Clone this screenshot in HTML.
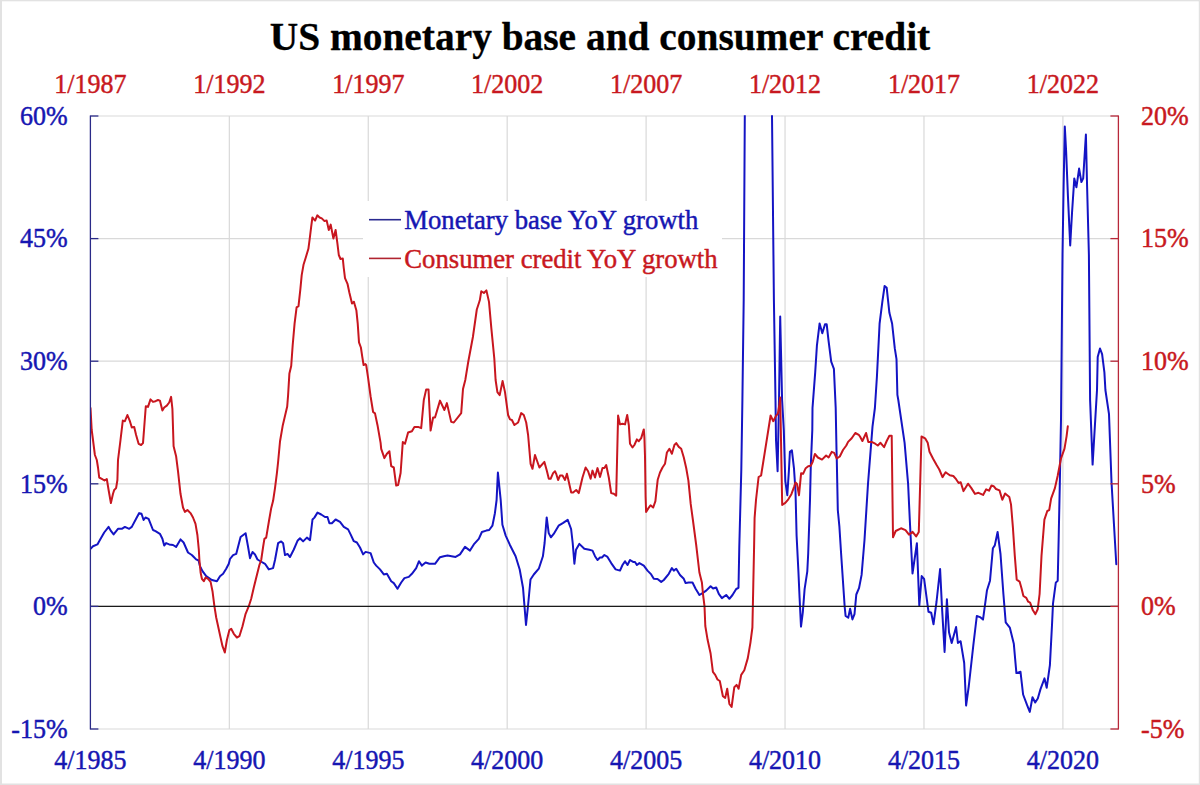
<!DOCTYPE html>
<html><head><meta charset="utf-8"><title>US monetary base and consumer credit</title>
<style>html,body{margin:0;padding:0;background:#fff;overflow:hidden}svg{display:block}text{stroke-width:0.45px;stroke-linejoin:round}.tb{stroke:#1616b2}.tr{stroke:#c81820}.tk{stroke:#000;stroke-width:0.3px}</style>
</head><body>
<svg width="1200" height="785" viewBox="0 0 1200 785" font-family="'Liberation Serif', 'Times New Roman', serif" font-size="26">
<rect x="0" y="0" width="1200" height="785" fill="#fff"/>
<rect x="0" y="0" width="2" height="785" fill="#e2e2e2"/><rect x="0" y="0" width="1200" height="1.3" fill="#e2e2e2"/><rect x="1198.8" y="0" width="1.2" height="785" fill="#e2e2e2"/><rect x="0" y="783.5" width="1200" height="1.5" fill="#e2e2e2"/>
<line x1="90.4" y1="116.00" x2="1118.4" y2="116.00" stroke="#d9d9d9" stroke-width="1.2"/>
<line x1="90.4" y1="238.60" x2="1118.4" y2="238.60" stroke="#d9d9d9" stroke-width="1.2"/>
<line x1="90.4" y1="361.20" x2="1118.4" y2="361.20" stroke="#d9d9d9" stroke-width="1.2"/>
<line x1="90.4" y1="483.80" x2="1118.4" y2="483.80" stroke="#d9d9d9" stroke-width="1.2"/>
<line x1="90.4" y1="606.40" x2="1118.4" y2="606.40" stroke="#d9d9d9" stroke-width="1.2"/>
<line x1="90.4" y1="729.00" x2="1118.4" y2="729.00" stroke="#d9d9d9" stroke-width="1.2"/>
<line x1="229.33" y1="116.0" x2="229.33" y2="729.0" stroke="#d9d9d9" stroke-width="1.2"/>
<line x1="368.26" y1="116.0" x2="368.26" y2="729.0" stroke="#d9d9d9" stroke-width="1.2"/>
<line x1="507.19" y1="116.0" x2="507.19" y2="729.0" stroke="#d9d9d9" stroke-width="1.2"/>
<line x1="646.11" y1="116.0" x2="646.11" y2="729.0" stroke="#d9d9d9" stroke-width="1.2"/>
<line x1="785.04" y1="116.0" x2="785.04" y2="729.0" stroke="#d9d9d9" stroke-width="1.2"/>
<line x1="923.97" y1="116.0" x2="923.97" y2="729.0" stroke="#d9d9d9" stroke-width="1.2"/>
<line x1="1062.90" y1="116.0" x2="1062.90" y2="729.0" stroke="#d9d9d9" stroke-width="1.2"/>
<defs><clipPath id="pc"><rect x="90" y="115.2" width="1029" height="614.5"/></clipPath></defs>
<g clip-path="url(#pc)" fill="none" stroke-linejoin="round" stroke-linecap="round">
<path d="M90.5,548.8 L93.0,546.2 L97.4,544.4 L99.9,540.0 L104.2,532.5 L108.6,526.9 L111.1,531.2 L113.6,534.4 L118.0,528.8 L121.8,528.8 L124.9,526.9 L129.2,528.8 L131.8,526.9 L136.1,518.8 L139.2,513.1 L141.5,513.8 L143.6,520.0 L145.5,517.5 L148.6,518.8 L153.0,530.0 L155.5,531.2 L159.9,533.8 L162.4,538.8 L164.2,545.6 L166.1,543.1 L169.2,544.4 L173.0,545.0 L176.1,546.9 L180.5,539.4 L183.6,542.5 L188.0,552.5 L191.8,555.0 L193.8,557.0 L196.1,559.4 L198.6,560.5 L200.0,566.2 L202.5,571.2 L206.2,576.2 L211.9,580.0 L216.9,581.2 L220.0,576.2 L223.1,573.8 L226.2,568.8 L228.8,563.8 L230.0,559.0 L233.1,555.1 L236.2,553.9 L240.6,537.0 L245.6,533.2 L248.1,547.0 L250.0,558.2 L252.5,552.0 L255.0,554.5 L257.5,559.5 L260.0,561.0 L265.0,563.8 L268.8,569.4 L273.1,568.1 L275.0,560.0 L278.1,543.2 L281.2,541.4 L283.1,543.2 L285.0,555.1 L287.5,553.9 L290.0,557.0 L293.8,549.5 L297.5,540.8 L300.0,538.2 L303.1,541.4 L306.9,537.6 L310.0,540.1 L312.5,519.5 L314.4,517.6 L317.5,512.6 L321.2,514.5 L325.0,517.0 L327.5,517.0 L329.4,523.2 L331.9,523.2 L335.6,519.5 L340.0,521.9 L343.8,526.9 L348.1,529.4 L350.6,534.4 L353.8,541.2 L356.9,542.5 L360.0,547.5 L363.1,554.4 L365.6,551.9 L370.6,553.1 L373.8,562.5 L376.2,565.6 L380.0,569.4 L383.8,574.4 L386.9,573.8 L391.2,581.2 L393.8,583.1 L397.5,588.8 L401.2,582.5 L404.4,578.1 L408.8,576.9 L411.9,573.8 L416.2,568.1 L419.0,561.2 L421.9,565.6 L425.6,562.5 L429.4,563.8 L435.0,563.8 L440.0,557.2 L443.8,556.2 L447.5,555.6 L455.6,556.9 L460.0,554.4 L465.0,546.9 L470.0,550.6 L473.8,544.4 L478.8,538.8 L481.9,532.0 L486.2,530.6 L489.2,530.0 L492.4,525.7 L494.9,513.2 L496.6,500.0 L497.9,472.6 L500.7,500.0 L502.4,524.8 L505.7,535.6 L509.8,544.7 L515.6,556.3 L519.7,569.5 L523.0,587.7 L526.0,625.0 L528.0,606.0 L530.5,579.5 L533.8,574.5 L538.8,568.7 L542.9,556.3 L544.6,543.0 L546.7,517.4 L548.7,533.1 L550.9,537.3 L553.7,533.9 L558.6,525.7 L562.8,523.2 L567.7,519.9 L571.1,529.0 L572.7,543.0 L574.4,563.7 L576.0,549.7 L579.3,543.9 L584.3,548.8 L589.3,549.7 L592.5,550.6 L595.0,556.2 L597.5,560.0 L600.0,557.5 L601.9,557.5 L604.4,555.0 L607.5,556.9 L611.2,563.1 L615.6,569.4 L620.0,570.6 L622.5,565.0 L625.0,561.2 L627.5,565.0 L630.0,560.0 L633.1,561.9 L635.0,561.9 L636.9,565.0 L639.4,563.1 L643.8,565.6 L647.5,570.6 L651.2,574.4 L653.8,578.8 L657.5,579.0 L661.2,581.9 L663.8,580.0 L668.8,573.8 L671.9,568.1 L673.8,570.6 L676.2,568.8 L680.0,575.0 L683.8,578.8 L685.6,583.1 L688.8,582.5 L692.5,582.5 L695.6,588.8 L699.4,595.0 L702.5,593.1 L706.2,590.6 L710.6,586.2 L713.1,588.5 L716.2,587.5 L718.8,593.8 L721.9,598.1 L726.2,595.0 L729.4,598.8 L732.5,595.0 L736.2,589.0 L738.5,587.8 L739.3,546.5 L740.3,508.2 L741.3,470.0 L742.4,400.0 L743.7,300.0 L744.8,115.6 L745.2,60.0 L771.6,60.0 L772.0,115.6 L773.9,300.0 L775.5,400.0 L776.0,440.0 L777.6,471.3 L779.0,400.0 L780.2,316.6 L782.1,400.0 L783.8,430.0 L785.3,481.0 L787.3,495.2 L788.9,470.8 L789.9,451.9 L791.9,450.4 L794.0,468.7 L795.5,491.2 L796.6,535.7 L798.4,571.3 L799.6,598.0 L801.0,626.6 L802.8,612.3 L804.6,589.1 L807.3,571.3 L808.2,553.5 L810.0,500.0 L810.8,465.7 L812.3,430.0 L812.5,408.0 L815.2,372.4 L816.9,345.7 L819.6,323.4 L822.3,333.2 L825.0,324.3 L826.7,324.3 L828.5,340.3 L831.2,361.7 L833.9,368.8 L835.7,408.0 L836.5,450.0 L836.8,460.6 L837.8,510.0 L839.4,526.7 L841.1,553.5 L842.9,580.2 L844.7,607.0 L845.6,615.9 L848.3,617.6 L850.1,608.7 L852.4,619.4 L854.5,614.1 L856.3,594.5 L859.0,588.2 L861.6,574.9 L864.5,540.0 L868.0,483.8 L872.5,426.7 L874.9,408.0 L876.9,377.0 L879.6,323.5 L882.3,302.1 L884.6,286.0 L886.7,287.8 L889.4,312.8 L892.1,323.5 L894.8,348.4 L896.5,359.1 L897.4,394.8 L898.3,400.0 L904.6,442.8 L908.1,483.8 L909.8,520.0 L910.7,537.8 L912.5,573.5 L916.9,543.2 L919.3,605.6 L921.7,576.1 L924.1,578.8 L928.5,611.8 L931.2,612.7 L933.5,624.3 L936.5,602.0 L940.1,569.0 L941.9,605.6 L944.6,651.9 L946.9,599.3 L949.0,632.3 L951.7,643.0 L956.1,627.0 L957.9,643.0 L960.6,641.2 L964.2,663.0 L966.1,705.5 L968.8,686.0 L973.4,644.7 L976.8,616.0 L980.0,617.1 L983.0,619.6 L987.0,590.2 L990.0,580.7 L992.9,548.2 L994.8,545.4 L997.6,532.0 L1000.5,554.0 L1003.4,594.0 L1005.7,622.3 L1009.8,627.6 L1013.8,643.7 L1016.4,673.1 L1020.5,671.8 L1023.1,694.5 L1027.1,705.2 L1029.8,711.9 L1032.5,697.2 L1035.2,702.5 L1037.8,698.5 L1040.5,689.1 L1044.5,678.4 L1046.7,687.8 L1049.9,665.1 L1052.0,625.0 L1053.0,603.6 L1055.8,582.6 L1057.7,580.7 L1058.7,536.8 L1059.7,489.1 L1061.0,420.0 L1062.5,255.0 L1063.6,186.4 L1064.8,126.6 L1066.1,150.7 L1067.9,195.4 L1070.2,245.4 L1072.0,213.2 L1074.3,178.4 L1076.4,187.3 L1079.1,168.6 L1081.4,182.0 L1083.2,178.4 L1085.9,134.6 L1087.1,186.4 L1088.9,255.0 L1090.1,400.0 L1092.6,464.6 L1097.0,390.0 L1097.7,357.1 L1100.0,348.5 L1102.1,354.2 L1104.4,372.4 L1105.4,390.0 L1109.0,414.2 L1111.5,482.0 L1113.9,523.2 L1116.3,564.3" stroke="#1414c4" stroke-width="2.0"/>
<path d="M90.5,408.0 L91.7,430.0 L93.0,440.0 L94.9,455.0 L96.8,460.0 L98.0,467.5 L99.2,477.5 L101.8,478.8 L104.5,480.5 L106.8,479.0 L108.6,490.0 L110.9,503.1 L113.0,493.8 L114.2,490.0 L116.1,488.1 L117.4,480.0 L118.0,460.0 L120.5,440.0 L122.8,420.6 L124.9,421.2 L127.4,415.0 L129.9,421.2 L131.8,427.5 L134.2,426.9 L136.1,435.0 L138.6,443.8 L141.1,445.0 L143.0,443.1 L144.2,427.5 L145.8,406.2 L148.0,406.9 L150.5,399.4 L153.0,401.9 L155.5,401.2 L158.0,400.0 L159.9,400.6 L162.4,410.6 L164.2,407.5 L166.8,405.6 L169.2,402.5 L171.1,396.9 L172.4,408.8 L173.6,446.2 L176.1,456.2 L178.0,471.2 L180.5,493.8 L183.0,507.5 L184.9,511.9 L187.4,510.0 L190.5,513.1 L193.0,517.5 L195.5,523.8 L197.4,535.0 L198.8,549.5 L199.4,560.0 L200.6,572.5 L201.9,578.8 L203.8,581.2 L205.6,577.5 L208.1,578.8 L210.6,581.9 L212.5,591.2 L214.4,606.2 L216.2,617.5 L220.0,635.0 L222.5,646.2 L224.8,652.5 L226.9,640.0 L229.4,630.0 L231.2,628.8 L233.8,633.8 L236.9,637.5 L239.4,636.2 L242.5,626.2 L245.6,613.8 L248.8,606.2 L251.2,598.8 L253.8,587.5 L256.9,575.0 L259.4,565.0 L261.2,560.0 L263.1,547.0 L264.4,538.9 L266.2,537.6 L268.8,522.0 L271.2,508.2 L273.1,500.8 L275.0,488.2 L276.9,473.2 L278.1,462.0 L280.0,441.5 L282.8,425.2 L287.2,406.5 L288.1,395.2 L289.4,373.4 L291.2,366.0 L292.7,345.0 L294.6,323.3 L296.6,307.4 L298.5,306.1 L300.4,288.9 L301.7,275.1 L303.5,264.8 L305.7,257.7 L308.4,248.8 L309.7,238.9 L311.1,227.3 L312.4,217.5 L315.1,220.6 L317.3,215.3 L319.6,217.5 L321.8,218.4 L324.5,221.1 L326.7,220.6 L328.8,230.0 L330.7,224.6 L333.4,238.5 L335.6,230.0 L337.4,243.4 L338.8,255.0 L340.5,259.0 L342.8,258.6 L343.7,267.5 L345.0,278.1 L347.5,283.8 L349.4,292.8 L352.0,303.6 L353.9,301.7 L356.4,310.6 L357.7,323.3 L359.0,342.4 L360.9,347.5 L362.2,356.4 L363.6,365.0 L365.4,364.1 L366.2,365.2 L368.1,377.8 L370.6,396.5 L373.1,412.0 L375.0,413.4 L377.5,425.2 L380.6,442.8 L381.2,448.8 L384.4,458.1 L386.9,453.8 L389.4,451.2 L391.2,466.2 L393.8,467.5 L396.2,485.6 L398.1,485.0 L400.6,473.0 L402.8,442.0 L405.0,443.8 L408.1,432.5 L411.9,431.2 L414.4,426.9 L418.1,426.9 L421.2,428.1 L423.8,400.0 L426.2,389.4 L428.5,389.4 L430.6,430.6 L433.1,417.5 L435.0,417.5 L440.0,400.6 L444.4,410.0 L446.9,403.1 L451.2,421.9 L453.8,422.5 L461.2,413.1 L463.0,389.0 L465.3,379.9 L468.3,361.5 L472.9,337.0 L476.8,309.5 L479.8,300.3 L481.3,291.2 L483.9,293.0 L486.4,290.4 L489.0,301.9 L491.3,327.9 L494.3,358.5 L495.6,380.0 L497.4,392.1 L499.7,395.1 L502.6,381.0 L505.0,392.1 L508.1,415.0 L510.0,419.4 L511.9,420.0 L514.4,425.0 L518.1,422.5 L521.2,413.1 L523.8,415.0 L526.2,422.5 L528.1,435.0 L530.6,463.8 L532.5,468.8 L535.0,455.0 L539.4,467.5 L544.4,461.9 L546.9,471.0 L548.8,478.8 L550.6,478.8 L553.1,473.1 L555.0,471.2 L556.2,473.8 L558.1,480.0 L560.0,475.6 L562.5,475.6 L565.0,480.0 L566.9,473.8 L568.1,478.8 L571.2,492.5 L573.1,492.5 L576.2,490.0 L578.8,493.1 L582.5,477.5 L585.6,467.5 L588.1,471.2 L590.6,478.8 L592.5,470.6 L595.0,477.5 L597.5,468.1 L600.0,476.9 L602.5,468.1 L604.4,468.1 L606.2,465.0 L608.8,477.5 L611.2,493.1 L613.8,493.8 L616.2,495.6 L618.1,415.6 L620.0,424.4 L622.5,423.8 L625.0,424.4 L627.2,415.0 L628.8,425.0 L630.0,443.8 L632.5,447.5 L634.4,445.0 L636.9,439.4 L638.8,441.2 L641.2,438.1 L643.8,429.4 L644.4,437.5 L645.0,456.2 L645.6,496.8 L646.1,511.9 L648.3,508.4 L650.5,505.2 L653.2,507.5 L655.4,501.2 L656.8,487.8 L657.7,479.8 L660.0,472.5 L662.5,467.5 L665.0,463.8 L666.9,452.5 L669.4,448.8 L671.9,453.8 L674.4,445.0 L676.2,443.1 L678.8,446.9 L681.2,448.8 L683.8,457.5 L686.2,468.0 L688.4,480.7 L690.7,503.9 L692.9,520.0 L696.2,545.0 L699.4,572.5 L701.9,582.5 L703.1,595.0 L704.5,606.1 L705.3,626.0 L707.6,639.8 L710.6,653.5 L712.9,671.9 L715.2,674.9 L717.5,679.5 L719.8,681.0 L722.9,696.3 L725.2,697.9 L727.2,688.7 L729.4,704.0 L731.6,707.0 L734.3,687.2 L736.6,684.9 L738.6,688.7 L741.2,674.9 L744.3,670.3 L747.8,658.1 L750.4,642.8 L752.4,627.5 L753.3,584.7 L754.1,546.5 L754.6,517.8 L756.0,500.0 L758.6,477.0 L761.1,475.5 L770.6,415.5 L773.3,421.2 L776.0,415.9 L777.9,413.6 L779.4,404.4 L780.2,397.6 L781.0,440.0 L782.2,504.9 L785.3,502.9 L788.3,499.3 L791.4,494.2 L794.0,487.1 L795.5,482.5 L797.0,484.0 L799.0,495.2 L801.1,473.3 L803.1,473.8 L805.7,468.2 L808.2,466.2 L810.8,465.7 L812.8,461.6 L814.9,454.0 L817.9,457.5 L822.0,459.6 L826.1,455.5 L828.6,457.5 L831.7,451.9 L834.2,452.9 L836.8,458.5 L839.8,456.5 L843.0,450.0 L846.3,445.5 L848.1,441.9 L851.7,438.3 L855.3,433.0 L858.8,434.8 L860.0,436.5 L862.4,441.0 L866.1,433.0 L868.3,442.0 L871.6,441.9 L875.2,443.7 L877.8,445.5 L880.5,442.8 L884.1,447.2 L886.7,441.0 L889.4,435.7 L891.7,435.7 L893.0,537.3 L895.7,531.0 L901.0,528.3 L905.5,530.1 L909.0,534.6 L912.6,531.9 L916.1,536.4 L918.8,531.9 L921.5,436.5 L925.1,438.3 L927.7,442.8 L929.5,451.7 L933.1,458.8 L936.6,465.1 L939.3,469.5 L942.5,477.1 L945.6,472.2 L949.8,475.3 L953.3,476.0 L956.1,479.2 L958.6,483.0 L960.7,482.3 L963.5,491.1 L968.0,483.7 L971.2,487.9 L975.0,493.9 L978.5,492.8 L983.1,494.9 L986.2,489.3 L989.0,490.7 L991.5,485.5 L993.6,486.2 L996.0,489.0 L999.5,490.4 L1002.3,499.8 L1005.1,493.5 L1009.3,497.0 L1011.0,504.4 L1012.9,527.3 L1014.8,555.9 L1016.7,579.7 L1019.6,581.6 L1021.5,588.3 L1023.4,596.0 L1026.3,597.9 L1028.2,601.7 L1030.1,602.6 L1032.9,610.3 L1035.4,614.1 L1037.7,609.3 L1039.6,594.0 L1041.5,555.9 L1044.4,519.6 L1047.3,511.0 L1049.2,510.1 L1051.1,498.6 L1054.9,488.1 L1057.7,475.7 L1061.0,458.5 L1064.5,448.7 L1066.6,436.1 L1067.8,426.3" stroke="#c8161f" stroke-width="2.0"/>
</g>
<rect x="363" y="201" width="359" height="76" fill="#fff"/>
<line x1="369" y1="219.7" x2="401" y2="219.7" stroke="#2a2a90" stroke-width="1.6"/>
<line x1="369" y1="258.4" x2="401" y2="258.4" stroke="#b02430" stroke-width="1.6"/>
<text x="404.3" y="229.2" font-size="26.7" fill="#1616b2" class="tb">Monetary base YoY growth</text>
<text x="404.3" y="267.8" font-size="26.7" fill="#c81820" class="tr">Consumer credit YoY growth</text>
<line x1="90.4" y1="606.40" x2="1118.4" y2="606.40" stroke="#1a1a1a" stroke-width="1.2"/>
<line x1="90.4" y1="115.4" x2="90.4" y2="729.6" stroke="#2a2a88" stroke-width="1.3"/>
<line x1="90.4" y1="116.00" x2="98.4" y2="116.00" stroke="#2a2a88" stroke-width="1.3"/>
<line x1="90.4" y1="238.60" x2="98.4" y2="238.60" stroke="#2a2a88" stroke-width="1.3"/>
<line x1="90.4" y1="361.20" x2="98.4" y2="361.20" stroke="#2a2a88" stroke-width="1.3"/>
<line x1="90.4" y1="483.80" x2="98.4" y2="483.80" stroke="#2a2a88" stroke-width="1.3"/>
<line x1="90.4" y1="606.40" x2="98.4" y2="606.40" stroke="#2a2a88" stroke-width="1.3"/>
<line x1="90.4" y1="729.00" x2="98.4" y2="729.00" stroke="#2a2a88" stroke-width="1.3"/>
<line x1="1118.4" y1="115.4" x2="1118.4" y2="729.6" stroke="#b8283a" stroke-width="1.3"/>
<line x1="1110.4" y1="116.00" x2="1118.4" y2="116.00" stroke="#b8283a" stroke-width="1.3"/>
<line x1="1110.4" y1="238.60" x2="1118.4" y2="238.60" stroke="#b8283a" stroke-width="1.3"/>
<line x1="1110.4" y1="361.20" x2="1118.4" y2="361.20" stroke="#b8283a" stroke-width="1.3"/>
<line x1="1110.4" y1="483.80" x2="1118.4" y2="483.80" stroke="#b8283a" stroke-width="1.3"/>
<line x1="1110.4" y1="606.40" x2="1118.4" y2="606.40" stroke="#b8283a" stroke-width="1.3"/>
<line x1="1110.4" y1="729.00" x2="1118.4" y2="729.00" stroke="#b8283a" stroke-width="1.3"/>
<text transform="translate(67.6 124.7) scale(1 1.06)" text-anchor="end" fill="#1616b2" class="tb">60%</text>
<text transform="translate(1141.0 124.7) scale(1 1.06)" fill="#c81820" class="tr">20%</text>
<text transform="translate(67.6 247.3) scale(1 1.06)" text-anchor="end" fill="#1616b2" class="tb">45%</text>
<text transform="translate(1141.0 247.3) scale(1 1.06)" fill="#c81820" class="tr">15%</text>
<text transform="translate(67.6 369.9) scale(1 1.06)" text-anchor="end" fill="#1616b2" class="tb">30%</text>
<text transform="translate(1141.0 369.9) scale(1 1.06)" fill="#c81820" class="tr">10%</text>
<text transform="translate(67.6 492.5) scale(1 1.06)" text-anchor="end" fill="#1616b2" class="tb">15%</text>
<text transform="translate(1141.0 492.5) scale(1 1.06)" fill="#c81820" class="tr">5%</text>
<text transform="translate(67.6 615.1) scale(1 1.06)" text-anchor="end" fill="#1616b2" class="tb">0%</text>
<text transform="translate(1141.0 615.1) scale(1 1.06)" fill="#c81820" class="tr">0%</text>
<text transform="translate(67.6 737.7) scale(1 1.06)" text-anchor="end" fill="#1616b2" class="tb">-15%</text>
<text transform="translate(1141.0 737.7) scale(1 1.06)" fill="#c81820" class="tr">-5%</text>
<text transform="translate(90.4 768.8) scale(1 1.06)" text-anchor="middle" fill="#1616b2" class="tb">4/1985</text>
<text transform="translate(90.4 93.2) scale(1 1.06)" text-anchor="middle" fill="#c81820" class="tr">1/1987</text>
<text transform="translate(229.3 768.8) scale(1 1.06)" text-anchor="middle" fill="#1616b2" class="tb">4/1990</text>
<text transform="translate(229.3 93.2) scale(1 1.06)" text-anchor="middle" fill="#c81820" class="tr">1/1992</text>
<text transform="translate(368.3 768.8) scale(1 1.06)" text-anchor="middle" fill="#1616b2" class="tb">4/1995</text>
<text transform="translate(368.3 93.2) scale(1 1.06)" text-anchor="middle" fill="#c81820" class="tr">1/1997</text>
<text transform="translate(507.2 768.8) scale(1 1.06)" text-anchor="middle" fill="#1616b2" class="tb">4/2000</text>
<text transform="translate(507.2 93.2) scale(1 1.06)" text-anchor="middle" fill="#c81820" class="tr">1/2002</text>
<text transform="translate(646.1 768.8) scale(1 1.06)" text-anchor="middle" fill="#1616b2" class="tb">4/2005</text>
<text transform="translate(646.1 93.2) scale(1 1.06)" text-anchor="middle" fill="#c81820" class="tr">1/2007</text>
<text transform="translate(785.0 768.8) scale(1 1.06)" text-anchor="middle" fill="#1616b2" class="tb">4/2010</text>
<text transform="translate(785.0 93.2) scale(1 1.06)" text-anchor="middle" fill="#c81820" class="tr">1/2012</text>
<text transform="translate(924.0 768.8) scale(1 1.06)" text-anchor="middle" fill="#1616b2" class="tb">4/2015</text>
<text transform="translate(924.0 93.2) scale(1 1.06)" text-anchor="middle" fill="#c81820" class="tr">1/2017</text>
<text transform="translate(1062.9 768.8) scale(1 1.06)" text-anchor="middle" fill="#1616b2" class="tb">4/2020</text>
<text transform="translate(1062.9 93.2) scale(1 1.06)" text-anchor="middle" fill="#c81820" class="tr">1/2022</text>
<text x="600" y="50.3" text-anchor="middle" font-size="39.4" font-weight="bold" fill="#000" class="tk">US monetary base and consumer credit</text>
</svg>
</body></html>
